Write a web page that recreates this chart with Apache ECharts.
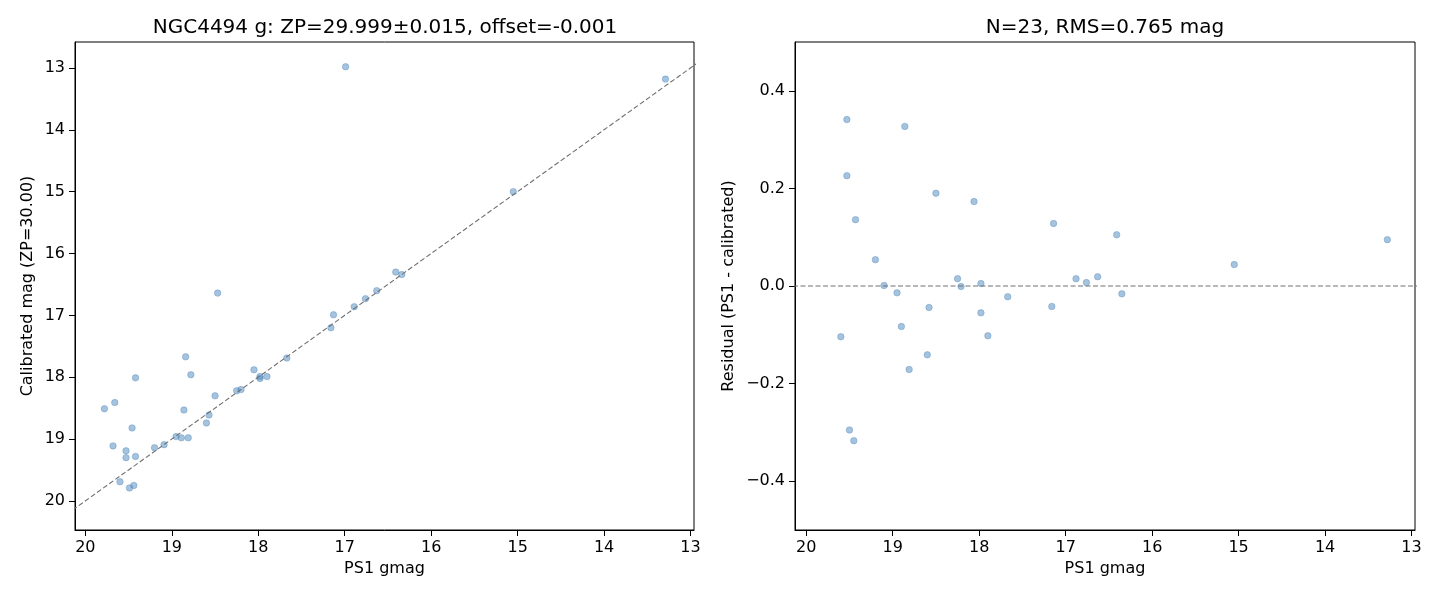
<!DOCTYPE html>
<html>
<head>
<meta charset="utf-8">
<style>
  html, body { margin: 0; padding: 0; background: #fff; }
  #chart-container { width: 1440px; height: 600px; }
</style>
<script src="https://cdn.jsdelivr.net/npm/echarts@6/dist/echarts.min.js"></script>
</head>
<body>
<div id="chart-container"></div>
<script>
// left panel: PS1 gmag vs calibrated mag
const leftPs1 = [18.84, 17.67, 18.05, 18.78, 19.42, 17.98, 17.98, 17.90, 18.25, 18.20,
  18.50, 19.66, 19.78, 18.86, 18.57, 18.60, 19.46, 18.95, 18.89, 18.81,
  19.68, 19.09, 19.20, 19.53, 19.53, 19.42, 19.60, 19.44, 19.49, 18.47,
  16.41, 16.34, 16.63, 16.76, 16.89, 17.13, 17.16, 16.99, 13.29, 15.05];
const leftCal = [17.67, 17.69, 17.88, 17.96, 18.01, 17.99, 18.02, 17.99, 18.22, 18.20,
  18.30, 18.41, 18.51, 18.53, 18.61, 18.74, 18.82, 18.96, 18.98, 18.98,
  19.11, 19.09, 19.14, 19.19, 19.30, 19.28, 19.69, 19.75, 19.79, 16.64,
  16.30, 16.34, 16.60, 16.73, 16.86, 16.99, 17.20, 12.98, 13.18, 15.00];

// right panel: PS1 gmag vs residual
const rightPs1 = [19.53, 18.86, 19.53, 18.50, 18.06, 19.43, 19.20, 18.25, 17.98, 19.10,
  18.21, 18.95, 17.67, 18.58, 17.98, 18.90, 19.60, 17.90, 18.60, 18.81,
  19.50, 19.45, 17.14, 16.41, 13.28, 15.05, 16.88, 16.76, 16.63, 16.35, 17.16];
const rightResid = [0.341, 0.327, 0.226, 0.190, 0.173, 0.136, 0.054, 0.015, 0.005, 0.001,
  -0.001, -0.014, -0.022, -0.044, -0.055, -0.083, -0.104, -0.102, -0.141, -0.171,
  -0.295, -0.317, 0.128, 0.105, 0.095, 0.044, 0.015, 0.007, 0.019, -0.016, -0.042];

// reference lines
const oneToOne = [[20.5, 20.499], [12.5, 12.499]];
const zeroLine = [[20.5, 0], [12.5, 0]];

const magTicks = [13, 14, 15, 16, 17, 18, 19, 20];
const residTicks = [-0.4, -0.2, 0, 0.2, 0.4];

var dom = document.getElementById("chart-container");
var myChart = echarts.init(dom, null, { renderer: "canvas" });

const font = "DejaVu Sans";
const dotStyle = {
  color: "rgba(70,130,185,0.6)",
  borderColor: "rgba(70,130,185,0.45)",
  borderWidth: 1,
};
const dashStyle = { color: "#707070", width: 1.1, type: [5, 2.5] };

function minus(v) {
  return v < 0 ? "\u2212" + Math.abs(v).toFixed(1) : v.toFixed(1);
}

function tick(vals) {
  return { show: true, length: 6, lineStyle: { color: "#000" }, customValues: vals };
}
function label(vals, fmt) {
  const l = { color: "#000", fontFamily: font, fontSize: 16, margin: 10, customValues: vals };
  if (fmt) l.formatter = fmt;
  return l;
}

function valueAxis(extra) {
  return Object.assign({
    type: "value",
    nameLocation: "middle",
    axisLine: { show: true, onZero: false, lineStyle: { color: "#000", width: 1 } },
    splitLine: { show: false },
    nameTextStyle: { color: "#000", fontFamily: font, fontSize: 16 },
  }, extra);
}

const titleStyle = { color: "#000", fontFamily: font, fontSize: 20, fontWeight: "normal" };

var option = {
  animation: false,
  backgroundColor: "#fff",
  title: [
    { text: "NGC4494 g: ZP=29.999±0.015, offset=-0.001", left: 380, top: 13, textAlign: "center", textStyle: titleStyle },
    { text: "N=23, RMS=0.765 mag", left: 1100, top: 13, textAlign: "center", textStyle: titleStyle },
  ],
  grid: [
    { left: 75, top: 42, width: 619, height: 488, show: true, borderColor: "#000", borderWidth: 1 },
    { left: 795, top: 42, width: 620, height: 488, show: true, borderColor: "#000", borderWidth: 1 },
  ],
  xAxis: [
    valueAxis({
      gridIndex: 0, inverse: true, min: 12.96, max: 20.12,
      name: "PS1 gmag", nameGap: 31,
      axisTick: tick(magTicks), axisLabel: label(magTicks),
    }),
    valueAxis({
      gridIndex: 1, inverse: true, min: 12.96, max: 20.13,
      name: "PS1 gmag", nameGap: 31,
      axisTick: tick(magTicks), axisLabel: label(magTicks),
    }),
  ],
  yAxis: [
    valueAxis({
      gridIndex: 0, inverse: true, min: 12.58, max: 20.47,
      name: "Calibrated mag (ZP=30.00)", nameGap: 39,
      axisTick: tick(magTicks), axisLabel: label(magTicks),
    }),
    valueAxis({
      gridIndex: 1, min: -0.5, max: 0.5,
      name: "Residual (PS1 - calibrated)", nameGap: 58,
      axisTick: tick(residTicks), axisLabel: label(residTicks, minus),
    }),
  ],
  series: [
    {
      type: "scatter", xAxisIndex: 0, yAxisIndex: 0,
      data: leftPs1.map((x, i) => [x, leftCal[i]]),
      symbolSize: 6.5, itemStyle: dotStyle, z: 2,
    },
    {
      type: "line", xAxisIndex: 0, yAxisIndex: 0,
      data: oneToOne, showSymbol: false, clip: true,
      lineStyle: dashStyle, z: 3,
    },
    {
      type: "scatter", xAxisIndex: 1, yAxisIndex: 1,
      data: rightPs1.map((x, i) => [x, rightResid[i]]),
      symbolSize: 6.5, itemStyle: dotStyle, z: 2,
    },
    {
      type: "line", xAxisIndex: 1, yAxisIndex: 1,
      data: zeroLine, showSymbol: false, clip: true,
      lineStyle: dashStyle, z: 3,
    },
  ],
};

myChart.setOption(option);
window.addEventListener("resize", myChart.resize);
</script>
</body>
</html>
